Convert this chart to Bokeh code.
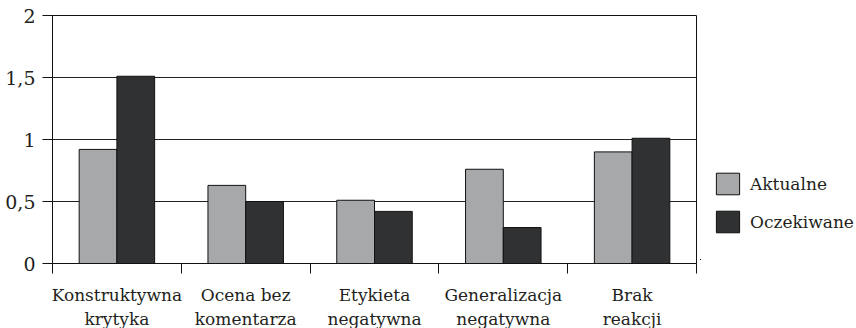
import numpy as np
from bokeh.plotting import figure
from bokeh.layouts import row
from bokeh.models import Range1d, FixedTicker, Legend, LegendItem, ColumnDataSource
from bokeh.embed import file_html
from bokeh.resources import INLINE

categories = ["Konstruktywna\nkrytyka", "Ocena bez\nkomentarza", "Etykieta\nnegatywna",
              "Generalizacja\nnegatywna", "Brak\nreakcji"]
aktualne = [0.92, 0.63, 0.51, 0.76, 0.90]
oczekiwane = [1.51, 0.50, 0.42, 0.29, 1.01]
y_ticks = [0, 0.5, 1, 1.5, 2]
y_tick_labels = ["0", "0,5", "1", "1,5", "2"]
series_names = ["Aktualne", "Oczekiwane"]
series_colors = ["#a7a8aa", "#303133"]

FONT = "DejaVu Serif"
FSIZE = "17px"
TXT = "#231f20"
EDGE = "#111111"

n = len(categories)
centers = np.arange(n) + 0.5
bw = 0.293

src = ColumnDataSource(dict(
    xa=centers - bw / 2, xo=centers + bw / 2,
    a=aktualne, o=oczekiwane))

p = figure(width=700, height=332, min_border_left=52, min_border_top=15,
           min_border_right=4, min_border_bottom=64,
           x_range=Range1d(0, n), y_range=Range1d(0, 2),
           output_backend="svg", toolbar_location=None)
p.background_fill_color = "white"
p.border_fill_color = "white"
p.outline_line_color = EDGE
p.outline_line_width = 1

p.vbar(x="xa", top="a", width=bw, bottom=0, source=src,
       fill_color=series_colors[0], line_color=EDGE, line_width=1)
p.vbar(x="xo", top="o", width=bw, bottom=0, source=src,
       fill_color=series_colors[1], line_color=EDGE, line_width=1)

# x axis: labels at centers, ticks at category boundaries
xax = p.xaxis[0]
xax.ticker = FixedTicker(ticks=list(centers), minor_ticks=list(np.arange(n + 1)))
xax.major_label_overrides = {float(c): lab for c, lab in zip(centers, categories)}
xax.major_tick_out = 0
xax.major_tick_in = 0
xax.minor_tick_out = 10
xax.minor_tick_in = 0
xax.minor_tick_line_color = EDGE
xax.axis_line_color = EDGE
xax.major_label_text_font = FONT
xax.major_label_text_font_size = FSIZE
xax.major_label_text_color = TXT
xax.major_label_text_line_height = 1.24
xax.major_label_standoff = 11

yax = p.yaxis[0]
yax.ticker = FixedTicker(ticks=y_ticks, minor_ticks=[])
yax.major_label_overrides = {float(t): l for t, l in zip(y_ticks, y_tick_labels)}
yax.major_tick_out = 10
yax.major_tick_in = 0
yax.major_tick_line_color = EDGE
yax.axis_line_color = EDGE
yax.minor_tick_line_color = None
yax.major_label_text_font = FONT
yax.major_label_text_font_size = "19px"
yax.major_label_text_color = TXT
yax.major_label_standoff = 7

p.xgrid.grid_line_color = None
p.ygrid.ticker = FixedTicker(ticks=y_ticks[1:-1])
p.ygrid.grid_line_color = "#222222"
p.ygrid.grid_line_width = 1

# legend panel (proxy renderers lie outside its visible range)
lf = figure(width=156, height=328, min_border=0, x_axis_type=None, y_axis_type=None,
            x_range=Range1d(100, 101), y_range=Range1d(100, 101),
            output_backend="svg", toolbar_location=None)
lf.outline_line_color = None
lf.xgrid.grid_line_color = None
lf.ygrid.grid_line_color = None
lf.background_fill_color = "white"
lf.border_fill_color = "white"
ka = lf.vbar(x="xa", top="a", width=bw, source=src,
             fill_color=series_colors[0], line_color=EDGE, line_width=1)
ko = lf.vbar(x="xo", top="o", width=bw, source=src,
             fill_color=series_colors[1], line_color=EDGE, line_width=1)
legend = Legend(items=[LegendItem(label=series_names[0], renderers=[ka]),
                       LegendItem(label=series_names[1], renderers=[ko])],
                location=(13, 24), orientation="vertical",
                glyph_width=29, glyph_height=27, label_height=27, spacing=11,
                label_standoff=8, padding=0, margin=0,
                border_line_alpha=0, background_fill_alpha=0,
                label_text_font=FONT, label_text_font_size=FSIZE,
                label_text_color=TXT)
lf.add_layout(legend, "center")

layout = row(p, lf)
open("out.html", "w").write(file_html(layout, INLINE))
